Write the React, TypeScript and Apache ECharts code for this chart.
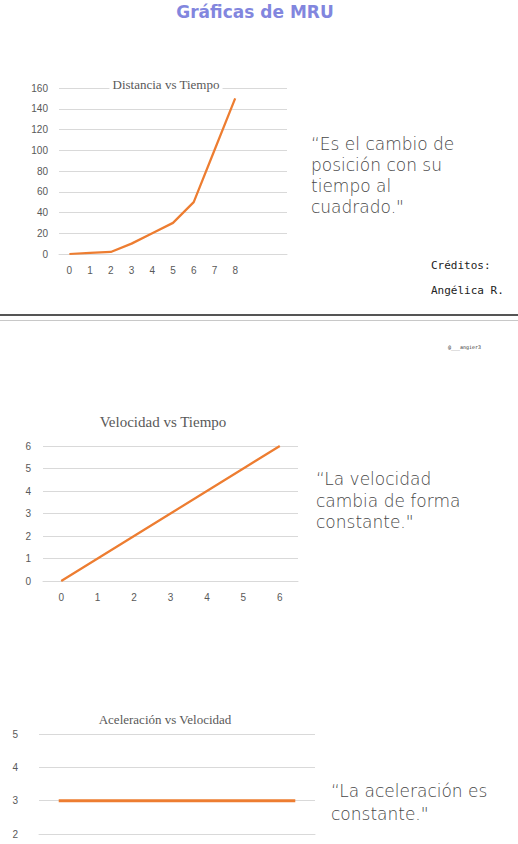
import React, { useEffect, useRef } from "react";
import * as echarts from "echarts";

const distCats = ["0", "1", "2", "3", "4", "5", "6", "7", "8", "", ""];
const distVals = [0, 1, 2, 10, 20, 30, 50, 100, 150, null, null];
const velCats = ["0", "1", "2", "3", "4", "5", "6"];
const velVals = [0, 1, 2, 3, 4, 5, 6];
const accCats = ["0", "1", "2", "3", "4", "5", "6"];
const accVals = [3, 3, 3, 3, 3, 3, 3];

const quote1 = ["“Es el cambio de", "posición con su", "tiempo al", "cuadrado.\""];
const quote2 = ["“La velocidad", "cambia de forma", "constante.\""];
const quote3 = ["“La aceleración es", "constante.\""];

const ORANGE = "#ED7D31";
const LABEL = "#595959";
const GRID = "#D9D9D9";
const QUOTE_FONT = "'DejaVu Sans', sans-serif";
const TITLE_FONT = "'Liberation Serif', serif";

function quoteTexts(lines: string[], x: number, y0: number, lh: number) {
  return lines.map((t, i) => ({
    type: "text",
    x,
    y: y0 + i * lh,
    style: {
      text: t,
      fill: "#474747",
      font: `200 17px ${QUOTE_FONT}`,
      textVerticalAlign: "middle",
    },
  }));
}

function chartTitle(text: string, x: number, y: number, size: number) {
  return {
    type: "text",
    x,
    y,
    z: 100,
    style: {
      text,
      fill: LABEL,
      font: `${size}px ${TITLE_FONT}`,
      textAlign: "center",
      textVerticalAlign: "middle",
      backgroundColor: "#fff",
      padding: [1, 3],
    },
  };
}

export default function App() {
  const ref = useRef<HTMLDivElement>(null);
  useEffect(() => {
    const chart = echarts.init(ref.current!, undefined, { renderer: "svg" });
    const axisLabel = { color: LABEL, fontSize: 10, fontFamily: "'Liberation Sans', sans-serif" };
    const xAxisBase = {
      type: "category",
      boundaryGap: true,
      axisTick: { show: false },
      axisLine: { show: true, lineStyle: { color: GRID } },
      splitLine: { show: false },
    };
    const yAxisBase = {
      type: "value",
      axisLine: { show: false },
      axisTick: { show: false },
      splitLine: { show: true, lineStyle: { color: GRID, width: 1 } },
    };
    chart.setOption({
      animation: false,
      grid: [
        { left: 59, width: 228, top: 88, height: 166 },
        { left: 43, width: 255, top: 446, height: 135 },
        { left: 39, width: 276, top: 734, height: 100 },
      ],
      xAxis: [
        { ...xAxisBase, gridIndex: 0, data: distCats, axisLabel: { ...axisLabel, margin: 11 } },
        { ...xAxisBase, gridIndex: 1, data: velCats, axisLabel: { ...axisLabel, margin: 11 } },
        { ...xAxisBase, gridIndex: 2, data: accCats, axisLabel: { show: false } },
      ],
      yAxis: [
        { ...yAxisBase, gridIndex: 0, min: 0, max: 160, interval: 20, axisLabel: { ...axisLabel, margin: 11 } },
        { ...yAxisBase, gridIndex: 1, min: 0, max: 6, interval: 1, axisLabel: { ...axisLabel, margin: 12 } },
        { ...yAxisBase, gridIndex: 2, min: 2, max: 5, interval: 1, axisLabel: { ...axisLabel, margin: 21 } },
      ],
      series: [
        {
          type: "line", xAxisIndex: 0, yAxisIndex: 0, data: distVals,
          showSymbol: false, symbol: "none", lineStyle: { color: ORANGE, width: 2.25 },
        },
        {
          type: "line", xAxisIndex: 1, yAxisIndex: 1, data: velVals,
          showSymbol: false, symbol: "none", lineStyle: { color: ORANGE, width: 2.25 },
        },
        {
          type: "line", xAxisIndex: 2, yAxisIndex: 2, data: accVals,
          showSymbol: false, symbol: "none", lineStyle: { color: ORANGE, width: 3 },
        },
      ],
      graphic: [
        {
          type: "text", x: 255, y: 12,
          style: {
            text: "Gráficas de MRU", fill: "#8286DE",
            font: `bold 17px ${QUOTE_FONT}`,
            textAlign: "center", textVerticalAlign: "middle",
          },
        },
        chartTitle("Distancia vs Tiempo", 166, 84, 13),
        chartTitle("Velocidad vs Tiempo", 163, 422, 15),
        chartTitle("Aceleración vs Velocidad", 165, 719, 13),
        ...quoteTexts(quote1, 311, 144, 21),
        ...quoteTexts(quote2, 316, 479, 21.5),
        ...quoteTexts(quote3, 331, 791, 22.5),
        {
          type: "text", x: 431, y: 265,
          style: { text: "Créditos:", fill: "#222", font: `11px 'DejaVu Sans Mono', monospace`, textVerticalAlign: "middle" },
        },
        {
          type: "text", x: 431, y: 290,
          style: { text: "Angélica R.", fill: "#222", font: `11px 'DejaVu Sans Mono', monospace`, textVerticalAlign: "middle" },
        },
        {
          type: "text", x: 448, y: 347,
          style: { text: "@___angier3", fill: "#333", font: `5px 'DejaVu Sans Mono', monospace`, textVerticalAlign: "middle" },
        },
        { type: "rect", shape: { x: 0, y: 314, width: 518, height: 2 }, style: { fill: "#555" } },
        { type: "rect", shape: { x: 0, y: 320, width: 518, height: 1 }, style: { fill: "#C8C8C8" } },
      ],
    });
    return () => chart.dispose();
  }, []);
  return (
    <div
      ref={ref}
      style={{ position: "fixed", left: 0, top: 0, width: 518, height: 844, background: "#fff", overflow: "hidden" }}
    />
  );
}
